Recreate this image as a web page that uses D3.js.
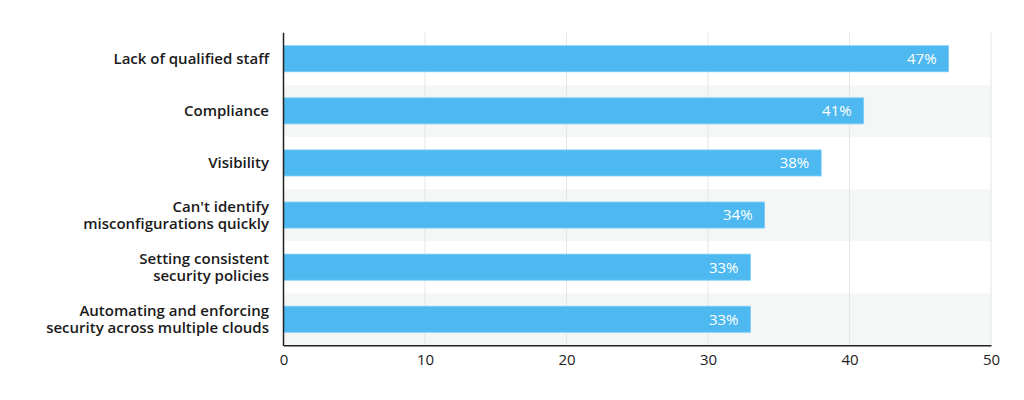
<!DOCTYPE html>
<html><head><meta charset="utf-8">
<script src="https://cdn.jsdelivr.net/npm/d3@7"></script>
<style>
body{margin:0;background:#fff;}
svg{display:block;font-family:"Open Sans",sans-serif;}
</style></head>
<body><svg id="chart" width="1024" height="400"></svg>
<script>
const categories = [
  ["Lack of qualified staff"],
  ["Compliance"],
  ["Visibility"],
  ["Can't identify", "misconfigurations quickly"],
  ["Setting consistent", "security policies"],
  ["Automating and enforcing", "security across multiple clouds"]
];
const values = [47, 41, 38, 34, 33, 33];
const tickValues = [0, 10, 20, 30, 40, 50];

const svg = d3.select("#chart");
const m = {left: 283.5, right: 991, top: 32.7, bottom: 345.3};
const x = d3.scaleLinear().domain([0, 50]).range([m.left, m.right]);
const y = d3.scaleBand().domain(d3.range(categories.length)).range([m.top, m.bottom]).paddingInner(0).paddingOuter(0);
const barPad = 0.5;

// stripes
svg.append("g").selectAll("rect").data(d3.range(categories.length).filter(i => i % 2 === 1))
  .join("rect").attr("x", m.left).attr("width", m.right - m.left)
  .attr("y", i => y(i)).attr("height", y.bandwidth()).attr("fill", "#f5f7f7");

// grid
svg.append("g").selectAll("line").data(tickValues.slice(1))
  .join("line").attr("x1", d => x(d)).attr("x2", d => x(d))
  .attr("y1", m.top).attr("y2", m.bottom).attr("stroke", "#e4e6e6").attr("stroke-width", 1);

// bars
const bh = y.bandwidth() * (1 - barPad);
const bars = svg.append("g").selectAll("g").data(values).join("g");
bars.append("rect").attr("x", x(0)).attr("y", (d, i) => y(i) + (y.bandwidth() - bh) / 2)
  .attr("width", d => x(d) - x(0)).attr("height", bh).attr("fill", "#4db9f0")
  .attr("stroke", "#7ccdf5").attr("stroke-width", 0.8);
bars.append("text").attr("x", d => x(d) - 12).attr("y", (d, i) => y(i) + y.bandwidth() / 2)
  .attr("dy", "0.36em").attr("text-anchor", "end").attr("fill", "#fff")
  .attr("font-size", 15).text(d => d + "%");

// axes
const xAxis = d3.axisBottom(x).tickValues(tickValues).tickSize(0).tickPadding(9);
const gx = svg.append("g").attr("transform", `translate(0,${m.bottom})`).call(xAxis);
gx.select(".domain").attr("stroke", "#222").attr("stroke-width", 1.5);
gx.selectAll("text").attr("font-size", 15).attr("fill", "#222").attr("font-family", "Open Sans");

svg.append("line").attr("x1", m.left).attr("x2", m.left).attr("y1", m.top).attr("y2", m.bottom + 0.75)
  .attr("stroke", "#222").attr("stroke-width", 1.5);

// category labels (one text element per line)
const lh = 17;
const lineData = [];
categories.forEach((lines, i) => {
  lines.forEach((l, j) => lineData.push({i, j, n: lines.length, text: l}));
});
svg.append("g").selectAll("text").data(lineData).join("text")
  .attr("x", 269).attr("text-anchor", "end").attr("fill", "#1a1a1a")
  .attr("font-size", 15).attr("font-weight", 600)
  .attr("y", d => y(d.i) + y.bandwidth() / 2 + 5 + (d.j - (d.n - 1) / 2) * lh)
  .text(d => d.text);
</script></body></html>
